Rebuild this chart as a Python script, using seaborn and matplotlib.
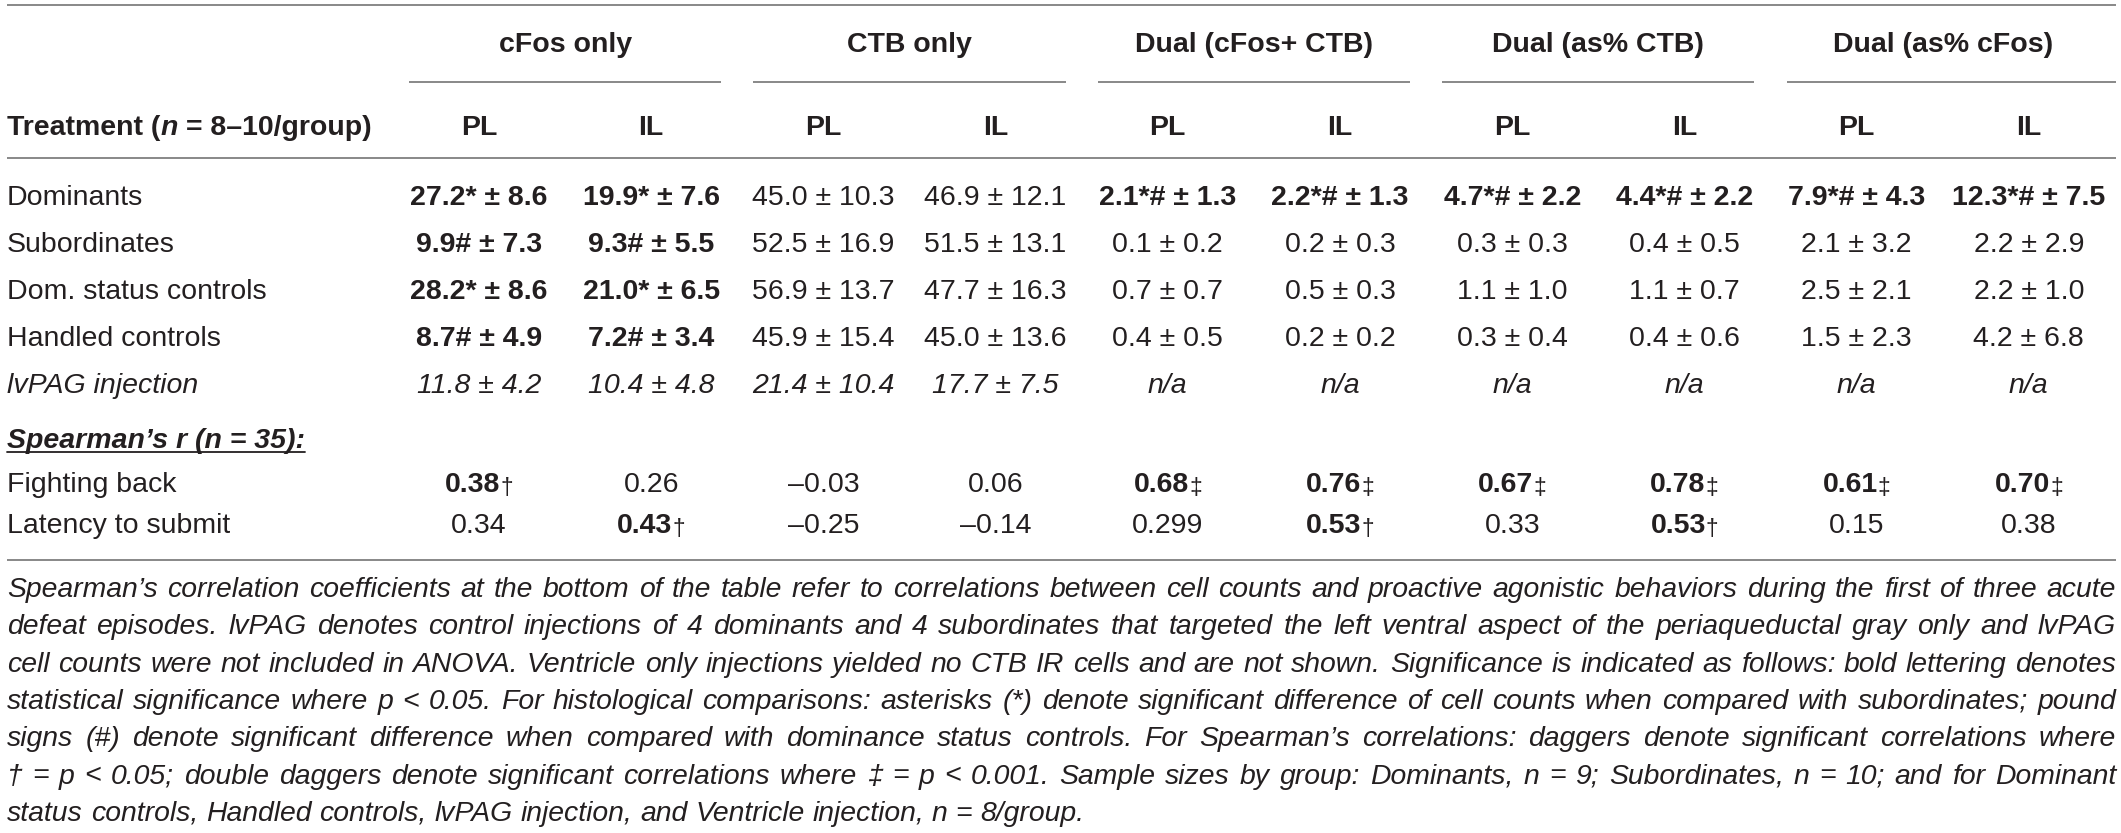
import numpy as np
import matplotlib
matplotlib.use("Agg")
import matplotlib.pyplot as plt
import seaborn as sns

# ------------------------------------------------------------------
# Table content
# ------------------------------------------------------------------
groups = ["cFos only", "CTB only", "Dual (cFos+ CTB)", "Dual (as% CTB)", "Dual (as% cFos)"]
regions = ["PL", "IL"]
treatments = ["Dominants", "Subordinates", "Dom. status controls", "Handled controls", "lvPAG injection"]
italic_rows = ["lvPAG injection"]

nan = np.nan
means = [
    [27.2, 19.9, 45.0, 46.9, 2.1, 2.2, 4.7, 4.4, 7.9, 12.3],
    [9.9, 9.3, 52.5, 51.5, 0.1, 0.2, 0.3, 0.4, 2.1, 2.2],
    [28.2, 21.0, 56.9, 47.7, 0.7, 0.5, 1.1, 1.1, 2.5, 2.2],
    [8.7, 7.2, 45.9, 45.0, 0.4, 0.2, 0.3, 0.4, 1.5, 4.2],
    [11.8, 10.4, 21.4, 17.7, nan, nan, nan, nan, nan, nan],
]
sds = [
    [8.6, 7.6, 10.3, 12.1, 1.3, 1.3, 2.2, 2.2, 4.3, 7.5],
    [7.3, 5.5, 16.9, 13.1, 0.2, 0.3, 0.3, 0.5, 3.2, 2.9],
    [8.6, 6.5, 13.7, 16.3, 0.7, 0.3, 1.0, 0.7, 2.1, 1.0],
    [4.9, 3.4, 15.4, 13.6, 0.5, 0.2, 0.4, 0.6, 2.3, 6.8],
    [4.2, 4.8, 10.4, 7.5, nan, nan, nan, nan, nan, nan],
]
marks = [
    ["*", "*", "", "", "*#", "*#", "*#", "*#", "*#", "*#"],
    ["#", "#", "", "", "", "", "", "", "", ""],
    ["*", "*", "", "", "", "", "", "", "", ""],
    ["#", "#", "", "", "", "", "", "", "", ""],
    ["", "", "", "", "", "", "", "", "", ""],
]

spearman_title = "Spearman\u2019s r (n = 35):"
behaviours = ["Fighting back", "Latency to submit"]
rho = [
    ["0.38", "0.26", "\u20130.03", "0.06", "0.68", "0.76", "0.67", "0.78", "0.61", "0.70"],
    ["0.34", "0.43", "\u20130.25", "\u20130.14", "0.299", "0.53", "0.33", "0.53", "0.15", "0.38"],
]
rho_marks = [
    ["\u2020", "", "", "", "\u2021", "\u2021", "\u2021", "\u2021", "\u2021", "\u2021"],
    ["", "\u2020", "", "", "", "\u2020", "", "\u2020", "", ""],
]

footnote_lines = [
    "Spearman\u2019s correlation coefficients at the bottom of the table refer to correlations between cell counts and proactive agonistic behaviors during the first of three acute",
    "defeat episodes. lvPAG denotes control injections of 4 dominants and 4 subordinates that targeted the left ventral aspect of the periaqueductal gray only and lvPAG",
    "cell counts were not included in ANOVA. Ventricle only injections yielded no CTB IR cells and are not shown. Significance is indicated as follows: bold lettering denotes",
    "statistical significance where p < 0.05. For histological comparisons: asterisks (*) denote significant difference of cell counts when compared with subordinates; pound",
    "signs (#) denote significant difference when compared with dominance status controls. For Spearman\u2019s correlations: daggers denote significant correlations where",
    "\u2020 = p < 0.05; double daggers denote significant correlations where \u2021 = p < 0.001. Sample sizes by group: Dominants, n = 9; Subordinates, n = 10; and for Dominant",
    "status controls, Handled controls, lvPAG injection, and Ventricle injection, n = 8/group.",
]

# ------------------------------------------------------------------
# Layout / style
# ------------------------------------------------------------------
W, H = 2121, 833
INK = "#231f20"
RULE = "#7f7f7f"
FS = 20.5
LEFT, RIGHT = 7, 2116

sns.set_theme(style="white")
plt.rcParams["font.family"] = ["Liberation Sans", "DejaVu Sans"]

fig = plt.figure(figsize=(W / 100, H / 100), dpi=100)
ax = fig.add_axes([0, 0, 1, 1])
ax.set_xlim(0, W)
ax.set_ylim(H, 0)
ax.axis("off")
renderer = fig.canvas.get_renderer()

col_x = [479 + 172.2 * i for i in range(len(groups) * len(regions))]
row_y = [195 + 47 * i for i in range(len(treatments))]
BASE = 10  # baseline offset from row centre


def text_width(s, size=FS, weight="normal", style="normal"):
    t = ax.text(0, 0, s, fontsize=size, fontweight=weight, fontstyle=style)
    w = t.get_window_extent(renderer).width
    t.remove()
    return w


def space_width(size=FS, weight="normal", style="normal"):
    return text_width("x x", size, weight, style) - text_width("xx", size, weight, style)


def draw_runs(x, y, runs, ha="center"):
    """runs: list of (text, weight, style, size, dy); ' ' = one space."""
    widths = []
    for s, wt, st, sz, dy in runs:
        widths.append(space_width(sz, wt, st) if s == " " else text_width(s, sz, wt, st))
    total = sum(widths)
    cur = x - total / 2 if ha == "center" else x
    for (s, wt, st, sz, dy), w in zip(runs, widths):
        if s != " ":
            ax.text(cur, y + dy, s, ha="left", va="baseline", fontsize=sz,
                    fontweight=wt, fontstyle=st, color=INK)
        cur += w
    return total


def hline(y, x0=LEFT, x1=RIGHT):
    ax.plot([x0, x1], [y, y], color=RULE, lw=1.3, solid_capstyle="butt")


# rules
hline(5)
hline(158)
hline(560)

# group headers and their underlines
for g, name in enumerate(groups):
    xa, xb = col_x[2 * g], col_x[2 * g + 1]
    ax.text((xa + xb) / 2, 42 + BASE, name, ha="center", va="baseline",
            fontsize=FS, fontweight="bold", color=INK)
    x1 = RIGHT if g == len(groups) - 1 else xb + 70
    hline(82, xa - 70, x1)

# sub header row
draw_runs(LEFT, 125 + BASE, [
    ("Treatment (", "bold", "normal", FS, 0),
    ("n", "bold", "italic", FS, 0),
    (" ", "bold", "normal", FS, 0),
    ("= 8\u201310/group)", "bold", "normal", FS, 0),
], ha="left")
for j, cx in enumerate(col_x):
    ax.text(cx, 125 + BASE, regions[j % 2], ha="center", va="baseline",
            fontsize=FS, fontweight="bold", color=INK)

# treatment rows
for i, treat in enumerate(treatments):
    y = row_y[i] + BASE
    style = "italic" if treat in italic_rows else "normal"
    ax.text(LEFT, y, treat, ha="left", va="baseline", fontsize=FS,
            fontstyle=style, color=INK)
    for j, cx in enumerate(col_x):
        m = means[i][j]
        if np.isnan(m):
            s = "n/a"
        else:
            s = f"{m:.1f}{marks[i][j]} \u00b1 {sds[i][j]:.1f}"
        weight = "bold" if marks[i][j] else "normal"
        ax.text(cx, y, s, ha="center", va="baseline", fontsize=FS,
                fontweight=weight, fontstyle=style, color=INK)

# Spearman block
sy = 438 + BASE
t = ax.text(LEFT, sy, spearman_title, ha="left", va="baseline", fontsize=FS,
            fontweight="bold", fontstyle="italic", color=INK)
tw = t.get_window_extent(renderer).width
ax.plot([LEFT, LEFT + tw], [sy + 4, sy + 4], color=INK, lw=1.3)

for k, beh in enumerate(behaviours):
    y = [482, 523][k] + BASE
    ax.text(LEFT, y, beh, ha="left", va="baseline", fontsize=FS, color=INK)
    for j, cx in enumerate(col_x):
        mk = rho_marks[k][j]
        if mk:
            draw_runs(cx, y, [(rho[k][j], "bold", "normal", FS, 0),
                              (mk, "normal", "normal", FS * 0.8, 3)])
        else:
            ax.text(cx, y, rho[k][j], ha="center", va="baseline", fontsize=FS,
                    color=INK)

# footnote: pick the size so the fullest line just fits, then justify
probe = 10.0
sp = space_width(probe, style="italic")
natural = []
for line in footnote_lines[:-1]:
    words = line.split(" ")
    natural.append(sum(text_width(w, probe, style="italic") for w in words) + sp * (len(words) - 1))
FOOT_FS = min(FS, probe * (RIGHT - LEFT) / max(natural) * 0.995)

space_w = space_width(FOOT_FS, style="italic")
for n, line in enumerate(footnote_lines):
    y = 588 + 37.3 * n + 9
    words = line.split(" ")
    widths = [text_width(w, FOOT_FS, style="italic") for w in words]
    if n < len(footnote_lines) - 1 and len(words) > 1:
        gap = (RIGHT - LEFT - sum(widths)) / (len(words) - 1)
    else:
        gap = space_w
    cur = LEFT
    for w, wd in zip(words, widths):
        ax.text(cur, y, w, ha="left", va="baseline", fontsize=FOOT_FS,
                fontstyle="italic", color=INK)
        cur += wd + gap

fig.savefig("out.png", dpi=100)
